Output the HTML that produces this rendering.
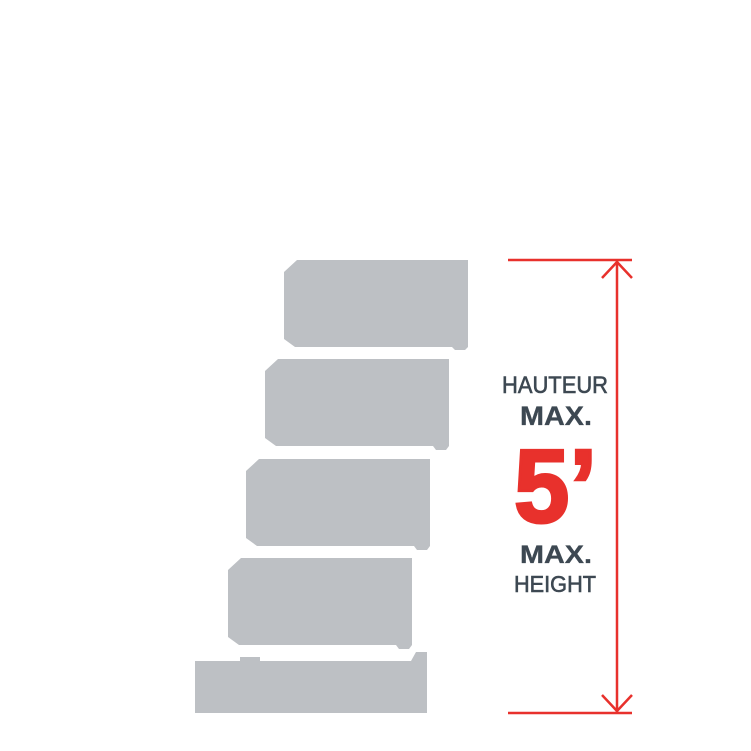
<!DOCTYPE html>
<html><head><style>body{margin:0;background:#fff}svg{display:block}</style></head><body>
<svg width="751" height="751" viewBox="0 0 751 751" xmlns="http://www.w3.org/2000/svg">
<g fill="#bdc0c4">
<path d="M297,260 H468 V347 L465,350 H455 L452,347 H295 L284,339 V272 Z"/>
<path d="M278,359 H449 V446 L446,450 H436 L433,446 H276 L265,438 V371 Z"/>
<path d="M259,459 H430 V546 L427,550 H417 L414,546 H257 L246,538 V471 Z"/>
<path d="M241,558 H412 V645 L409,649 H399 L396,645 H239 L228,637 V570 Z"/>
<path d="M195,661 H240 V657 H260 V661 H411 L416,652 H427 V713 H195 Z"/>
</g>
<g stroke="#e8312c" stroke-width="2.5" fill="none">
<line x1="508" y1="260" x2="632" y2="260"/>
<line x1="508" y1="713" x2="632" y2="713"/>
<line x1="617" y1="261" x2="617" y2="712"/>
<polyline points="602,278 617,262 632,278"/>
<polyline points="602,695 617,711 632,695"/>
</g>
<g font-family="Liberation Sans, sans-serif" fill="#3d4852" stroke="#3d4852">
<text x="502" y="393" font-size="24" stroke-width="0.6" textLength="106" lengthAdjust="spacingAndGlyphs">HAUTEUR</text>
<text x="520" y="425" font-size="27" font-weight="bold" stroke-width="0.3" textLength="72" lengthAdjust="spacingAndGlyphs">MAX.</text>
<text x="514" y="522" font-size="104" font-weight="bold" fill="#e8312c" stroke="#e8312c" stroke-width="3" textLength="83" lengthAdjust="spacingAndGlyphs">5’</text>
<text x="520" y="563" font-size="25" font-weight="bold" stroke-width="0.3" textLength="72" lengthAdjust="spacingAndGlyphs">MAX.</text>
<text x="514" y="592" font-size="23" stroke-width="0.6" textLength="82" lengthAdjust="spacingAndGlyphs">HEIGHT</text>
</g>
</svg>
</body></html>
